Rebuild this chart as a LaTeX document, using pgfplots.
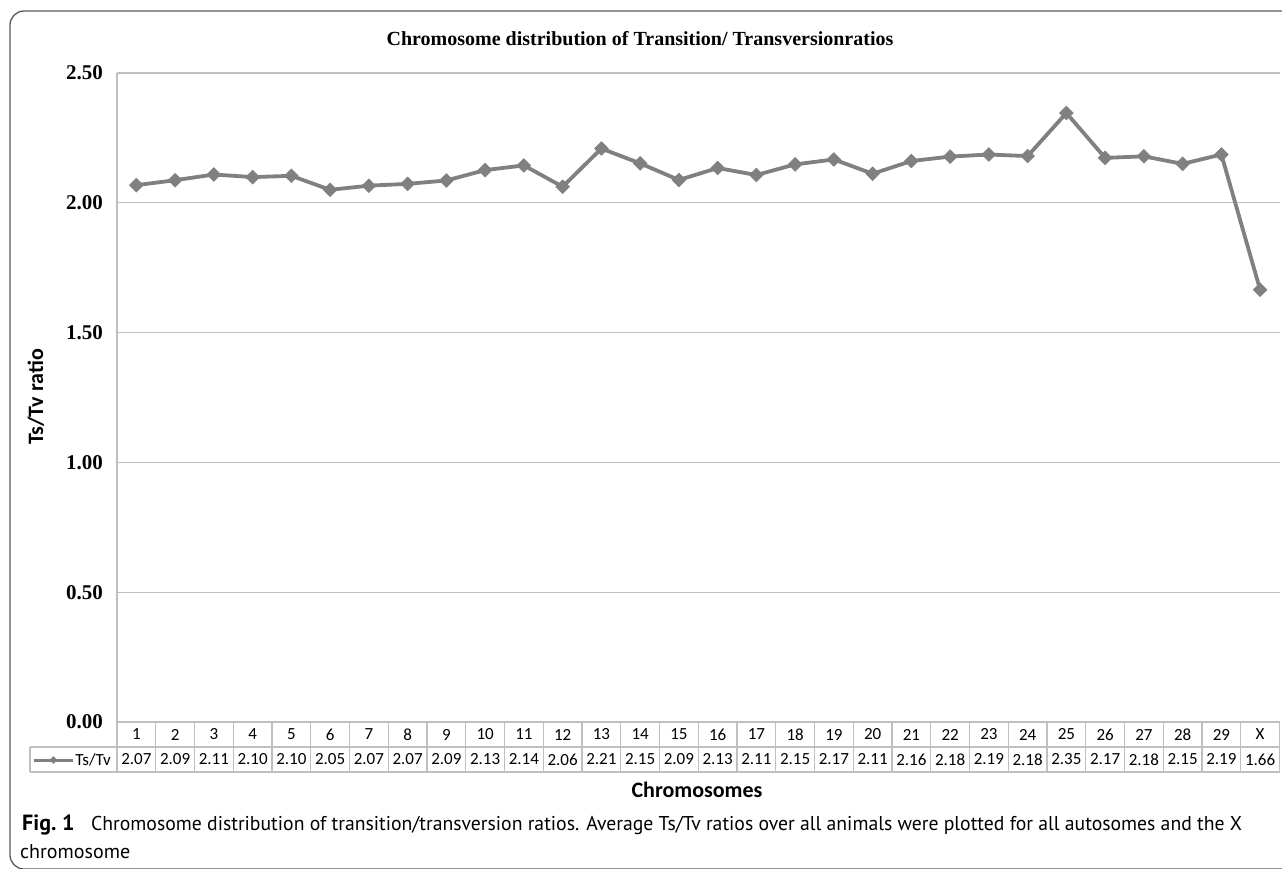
\documentclass[border=0pt]{standalone}
\usepackage{pgfplots}
\pgfplotsset{compat=1.18}
\usepackage{fontspec}
\setmainfont{Liberation Serif}
\newfontfamily\calibri{Carlito}
\newfontfamily\capfont{PT Sans}
\definecolor{linegray}{HTML}{808080}
\definecolor{gridgray}{HTML}{BFBFBF}
\definecolor{framegray}{HTML}{5A5A5A}
\begin{document}
\begin{tikzpicture}
\useasboundingbox (0,0) rectangle (1282pt,-868pt);
% outer frame
\draw[framegray, line width=1.3pt, rounded corners=14pt] (10pt,-11pt) rectangle (1310pt,-869pt);
% title
\node[inner sep=0pt] at (640pt,-39pt) {\bfseries\fontsize{20}{20}\selectfont Chromosome distribution of Transition/ Transversionratios};
\begin{axis}[
  at={(117pt,-722pt)}, anchor=south west,
  scale only axis, width=1162.5pt, height=649pt,
  xmin=0.5, xmax=30.5, ymin=0, ymax=2.5,
  axis x line=none,
  axis y line=left,
  y axis line style={gridgray, line width=1.2pt, -},
  ytick={0,0.5,1,1.5,2,2.5},
  ymajorgrids,
  major grid style={gridgray, line width=1.2pt},
  major tick length=0pt,
  yticklabel style={font=\bfseries\fontsize{21}{21}\selectfont, inner sep=0pt, anchor=east, xshift=-14pt},
  /pgf/number format/.cd, fixed, fixed zerofill, precision=2, assume math mode=true,
  /pgfplots/.cd,
  clip=false,
  legend style={at={(rel axis cs:-0.0043,-0.0586)}, anchor=east, draw=none, fill=none, inner sep=0pt,
     font=\calibri\fontsize{17}{17}\selectfont, nodes={inner sep=1pt}, column sep=0pt},
  legend image code/.code={
     \draw[linegray, line width=3pt] (0pt,0pt) -- (39pt,0pt);
     \draw[linegray, fill=linegray, line width=0.4pt] (19.5pt,0pt) +(0,3.5pt) -- +(3.5pt,0) -- +(0,-3.5pt) -- +(-3.5pt,0) -- cycle;
  },
]
\addplot[linegray, line width=3.8pt, mark=square*, mark size=4.9pt,
  mark options={rotate=45, fill=linegray, line width=0.5pt, solid}]
coordinates {
(1,2.068) (2,2.087) (3,2.109) (4,2.099) (5,2.104) (6,2.050) (7,2.066) (8,2.073)
(9,2.086) (10,2.126) (11,2.144) (12,2.062) (13,2.209) (14,2.152) (15,2.088)
(16,2.134) (17,2.107) (18,2.148) (19,2.167) (20,2.112) (21,2.161) (22,2.178)
(23,2.186) (24,2.180) (25,2.346) (26,2.173) (27,2.179) (28,2.150) (29,2.186) (30,1.665)
};
\addlegendentry{Ts/Tv}
\end{axis}
% data table
\foreach \k in {0,...,30} {
  \draw[gridgray, line width=1.2pt] ({(117+38.75*\k)*1pt},-722pt) -- ++(0pt,-50pt);
}
\draw[gridgray, line width=1.2pt] (117pt,-722pt) -- (1279.5pt,-722pt);
\draw[gridgray, line width=1.2pt] (30pt,-747pt) -- (1279.5pt,-747pt);
\draw[gridgray, line width=1.2pt] (30pt,-772pt) -- (1279.5pt,-772pt);
\draw[gridgray, line width=1.2pt] (30pt,-747pt) -- (30pt,-772pt);
\foreach \lab [count=\i] in {1,2,3,4,5,6,7,8,9,10,11,12,13,14,15,16,17,18,19,20,21,22,23,24,25,26,27,28,29,X} {
  \node[font=\calibri\fontsize{17}{17}\selectfont, inner sep=0pt] at ({(117+38.75*(\i-0.5))*1pt},-734.5pt) {\lab};
}
\foreach \v [count=\i] in {2.07,2.09,2.11,2.10,2.10,2.05,2.07,2.07,2.09,2.13,2.14,2.06,2.21,2.15,2.09,2.13,2.11,2.15,2.17,2.11,2.16,2.18,2.19,2.18,2.35,2.17,2.18,2.15,2.19,1.66} {
  \node[font=\calibri\fontsize{17}{17}\selectfont, inner sep=0pt] at ({(117+38.75*(\i-0.5))*1pt},-759.5pt) {\v};
}
% axis titles
\node[rotate=90, font=\calibri\bfseries\fontsize{22}{22}\selectfont] at (36pt,-397pt) {Ts/Tv ratio};
\node[font=\calibri\bfseries\fontsize{22}{22}\selectfont] at (697pt,-790pt) {Chromosomes};
% caption
\node[anchor=base west, inner sep=0pt, font=\capfont\bfseries\fontsize{22}{22}\selectfont] at (22pt,-830pt) {Fig.~1};
\node[anchor=base west, inner sep=0pt, font=\capfont\fontsize{20}{20}\selectfont] at (91pt,-830pt) {\scalebox{0.985}[1]{Chromosome distribution of transition/transversion ratios. Average Ts/Tv ratios over all animals were plotted for all autosomes and the X}};
\node[anchor=base west, inner sep=0pt, font=\capfont\fontsize{20}{20}\selectfont] at (20pt,-858pt) {chromosome};
\end{tikzpicture}
\end{document}
